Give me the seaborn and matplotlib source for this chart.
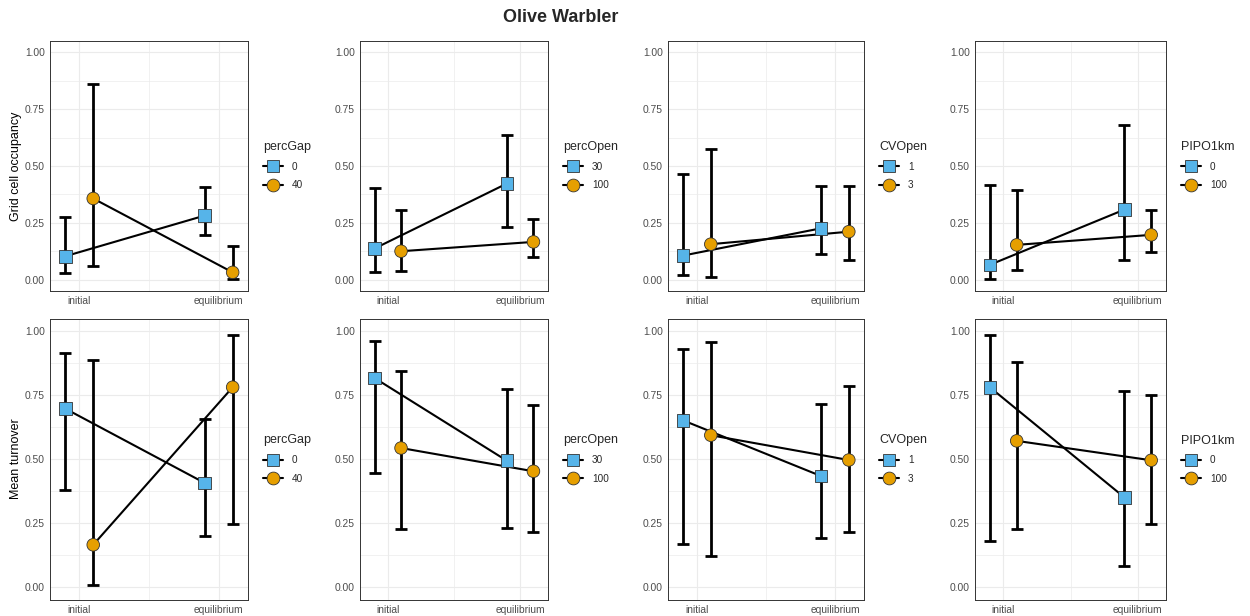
import matplotlib
matplotlib.use("Agg")
import matplotlib.pyplot as plt
from matplotlib.lines import Line2D
from matplotlib.ticker import FixedLocator
import seaborn as sns
import pandas as pd

# ---- data -------------------------------------------------------------
times = ["initial", "equilibrium"]
factors = ["percGap", "percOpen", "CVOpen", "PIPO1km"]
levels_a = ["0", "30", "1", "0"]      # first level of each factor (squares)
levels_b = ["40", "100", "3", "100"]  # second level of each factor (circles)
metrics = ["Grid cell occupancy", "Mean turnover"]
y_ticks = [0.0, 0.25, 0.5, 0.75, 1.0]
y_tick_labels = ["0.00", "0.25", "0.50", "0.75", "1.00"]

# Grid cell occupancy: [initial, equilibrium] per factor
occ_mean_a = [[0.103, 0.282], [0.137, 0.423], [0.106, 0.226], [0.065, 0.308]]
occ_lo_a = [[0.029, 0.198], [0.034, 0.232], [0.019, 0.113], [0.004, 0.087]]
occ_hi_a = [[0.276, 0.408], [0.405, 0.636], [0.463, 0.410], [0.416, 0.681]]
occ_mean_b = [[0.357, 0.032], [0.125, 0.166], [0.156, 0.211], [0.153, 0.197]]
occ_lo_b = [[0.062, 0.004], [0.037, 0.100], [0.012, 0.085], [0.041, 0.123]]
occ_hi_b = [[0.863, 0.147], [0.305, 0.269], [0.573, 0.413], [0.394, 0.305]]

# Mean turnover: [initial, equilibrium] per factor
turn_mean_a = [[0.697, 0.406], [0.817, 0.493], [0.651, 0.433], [0.781, 0.350]]
turn_lo_a = [[0.380, 0.198], [0.445, 0.231], [0.166, 0.191], [0.178, 0.081]]
turn_hi_a = [[0.913, 0.658], [0.961, 0.773], [0.932, 0.717], [0.986, 0.765]]
turn_mean_b = [[0.164, 0.781], [0.543, 0.452], [0.593, 0.496], [0.571, 0.495]]
turn_lo_b = [[0.005, 0.247], [0.227, 0.215], [0.121, 0.215], [0.226, 0.247]]
turn_hi_b = [[0.886, 0.986], [0.846, 0.711], [0.957, 0.785], [0.879, 0.752]]

# ---- style ------------------------------------------------------------
sns.set_style("white")
plt.rcParams["font.family"] = ["Liberation Sans", "DejaVu Sans"]

COL_A = "#56B4E9"
COL_B = "#E69F00"
EDGE = "#333333"
GRID = "#EBEBEB"
DODGE = 0.1

W, H = 1250, 616
fig = plt.figure(figsize=(W / 100, H / 100), dpi=100)

col_left = [50, 360, 668, 975]
col_right = [248, 548, 864, 1166]
row_top = [41, 318.5]
row_bot = [291, 599.5]

metric_data = [
    (occ_mean_a, occ_lo_a, occ_hi_a, occ_mean_b, occ_lo_b, occ_hi_b),
    (turn_mean_a, turn_lo_a, turn_hi_a, turn_mean_b, turn_lo_b, turn_hi_b),
]


def panel_frame(r, c):
    ma, la, ha, mb, lb, hb = metric_data[r]
    rows = []
    for lvl, off, m, lo, hi in ((levels_a[c], -DODGE, ma[c], la[c], ha[c]),
                                (levels_b[c], DODGE, mb[c], lb[c], hb[c])):
        for i, t in enumerate(times):
            rows.append({"time": t, "level": lvl, "x": i + 1 + off,
                         "mean": m[i], "lo": lo[i], "hi": hi[i]})
    return pd.DataFrame(rows)


for r in range(2):
    for c in range(4):
        left, right = col_left[c], col_right[c]
        top, bot = row_top[r], row_bot[r]
        ax = fig.add_axes([left / W, 1 - bot / H, (right - left) / W, (bot - top) / H])
        df = panel_frame(r, c)
        la, lb = levels_a[c], levels_b[c]

        # error bars
        ax.errorbar(df["x"], df["mean"],
                    yerr=[df["mean"] - df["lo"], df["hi"] - df["mean"]],
                    fmt="none", ecolor="black", elinewidth=2.0,
                    capsize=4.5, capthick=2.0, zorder=2)
        # connecting lines
        sns.lineplot(data=df, x="x", y="mean", units="level", estimator=None,
                     color="black", lw=1.5, ax=ax, legend=False, zorder=3)
        # points
        sns.scatterplot(data=df, x="x", y="mean", hue="level", style="level",
                        hue_order=[la, lb], style_order=[la, lb],
                        markers={la: "s", lb: "o"},
                        palette={la: COL_A, lb: COL_B},
                        s=82, edgecolor=EDGE, linewidth=0.6,
                        ax=ax, legend=False, zorder=4)

        ax.set_xlim(0.79, 2.21)
        ax.set_ylim(-0.05, 1.05)
        ax.xaxis.set_major_locator(FixedLocator([1, 2]))
        ax.set_xticklabels(times)
        ax.xaxis.set_minor_locator(FixedLocator([1.5]))
        ax.set_yticks(y_ticks)
        ax.set_yticklabels(y_tick_labels)
        ax.yaxis.set_minor_locator(FixedLocator([0.125, 0.375, 0.625, 0.875]))
        ax.grid(True, which="major", color=GRID, lw=0.8, zorder=0)
        ax.grid(True, which="minor", color=GRID, lw=0.5, zorder=0)
        ax.set_axisbelow(True)
        ax.tick_params(axis="both", which="major", length=2.2, width=0.6,
                       color=EDGE, labelsize=7.4, labelcolor="#4D4D4D", pad=1.5)
        ax.tick_params(axis="both", which="minor", length=0)
        for sp in ax.spines.values():
            sp.set_color(EDGE)
            sp.set_linewidth(0.7)
        ax.set_xlabel("")
        if c == 0:
            ax.set_ylabel(metrics[r], fontsize=9, color="black", labelpad=2)
        else:
            ax.set_ylabel("")

        handles = [
            Line2D([0], [0], color="black", lw=1.5, marker="s", markersize=8.6,
                   markerfacecolor=COL_A, markeredgecolor=EDGE, markeredgewidth=0.6),
            Line2D([0], [0], color="black", lw=1.5, marker="o", markersize=9.2,
                   markerfacecolor=COL_B, markeredgecolor=EDGE, markeredgewidth=0.6),
        ]
        ax.legend(handles, [la, lb], title=factors[c],
                  loc="center left",
                  bbox_to_anchor=((right + 15) / W, 1 - (top + bot) / 2 / H),
                  bbox_transform=fig.transFigure,
                  frameon=False, fontsize=7.2, title_fontsize=9,
                  handlelength=2.0, handletextpad=0.9, labelspacing=0.85,
                  borderpad=0, borderaxespad=0, alignment="left")

fig.text(561 / W, 1 - 18 / H, "Olive Warbler", ha="center", va="center",
         fontsize=13, fontweight="bold")

fig.savefig("out.png", dpi=100, facecolor="white")
